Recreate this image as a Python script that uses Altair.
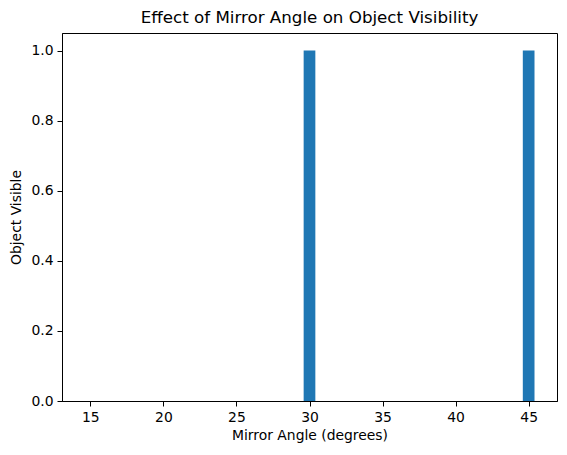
import altair as alt
import pandas as pd

angles = [15, 20, 25, 30, 35, 40, 45]
visible = [0, 0, 0, 1, 0, 0, 1]
x_ticks = [15, 20, 25, 30, 35, 40, 45]
y_ticks = [0.0, 0.2, 0.4, 0.6, 0.8, 1.0]

df = pd.DataFrame({"angle": angles, "visible": visible})

FONT = "DejaVu Sans"

chart = alt.Chart(df).transform_calculate(
    x0="datum.angle - 0.4", x1="datum.angle + 0.4"
).mark_rect(color="#1f77b4").encode(
    x=alt.X("x0:Q", scale=alt.Scale(domain=[13.06, 46.94], nice=False, zero=False),
            axis=alt.Axis(values=x_ticks, title="Mirror Angle (degrees)", format="d")),
    x2="x1:Q",
    y=alt.Y("visible:Q", scale=alt.Scale(domain=[0, 1.05], nice=False),
            axis=alt.Axis(values=y_ticks, title="Object Visible", format=".1f")),
    y2=alt.datum(0),
).properties(
    width=495, height=368,
    title=alt.TitleParams("Effect of Mirror Angle on Object Visibility", font=FONT,
                          fontSize=16.7, fontWeight="normal", color="black", offset=6),
    autosize=alt.AutoSizeParams(type="none"),
    padding={"left": 62, "top": 33, "right": 10, "bottom": 54},
).configure_view(
    stroke="black", strokeWidth=1
).configure_axis(
    grid=False, domainColor="black", tickColor="black", tickSize=5,
    labelFont=FONT, labelFontSize=13.9, labelColor="black", labelPadding=4,
    titleFont=FONT, titleFontSize=13.9, titleColor="black", titleFontWeight="normal",
).configure_axisX(titlePadding=5).configure_axisY(titlePadding=7)

chart.save("out.html", embed_options={"renderer": "svg", "actions": False})
